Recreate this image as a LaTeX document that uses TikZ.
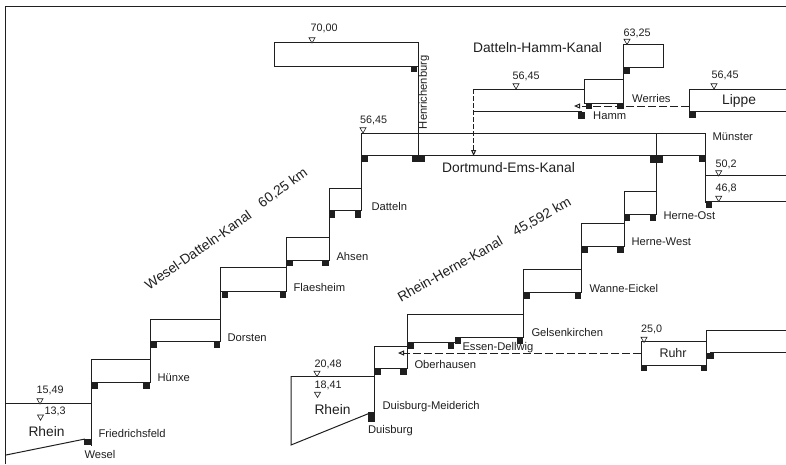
\documentclass[tikz,border=0pt]{standalone}
\usepackage{fontspec}
\setmainfont{Liberation Sans}
\usetikzlibrary{arrows.meta,shapes.geometric}

\begin{document}
\begin{tikzpicture}[
  x=1pt, y=-1pt,
  every path/.style={line width=1pt, color=black!88},
  gate/.style={draw=none, fill=black!88, minimum size=6.5pt, inner sep=0pt},
  widegate/.style={gate, minimum width=13pt},
  level/.style={draw, line width=0.6pt, fill=white, regular polygon, regular polygon sides=3, shape border rotate=180, minimum size=7pt, inner sep=0pt},
  stop/.style={anchor=west, inner sep=0pt, font=\fontsize{11.2}{13}\selectfont, text=black!88},
  height/.style={stop, font=\fontsize{10.8}{13}\selectfont},
  water/.style={anchor=west, inner sep=0pt, font=\fontsize{13.8}{15}\selectfont, text=black!88},
  kanal/.style={water, anchor=center},
  link/.style={dashed, dash pattern=on 8pt off 3pt, -{Triangle[open,length=6pt,width=5pt]}}
]

\useasboundingbox (0,0) rectangle (786,464);

\draw (5.5,464) -- (5.5,6.5) -- (786,6.5);

\draw (6,403) -- (91,403);
\draw (6,455) -- (85,439);
\draw (91,359) rectangle (150,382);
\draw (91,382) -- (91,446);
\draw (150,319) rectangle (220.5,341.7);
\draw (150,341.7) -- (150,382);
\draw (220.5,267.7) rectangle (286,291);
\draw (286,237) rectangle (329,260);
\draw (329,188) rectangle (361,210.7);
\draw (329,210.7) -- (329,237);
\draw (361,133) rectangle (705.5,155.7);
\draw (361,155.7) -- (361,210.7);
\draw (220.5,291) -- (220.5,319);
\draw (286,260) -- (286,291);

\draw (274,42) rectangle (418,66);
\draw (418,66) -- (418,156);

\draw (291,376) -- (374,376);
\draw (291,376) -- (291,445) -- (370,413);
\draw (374,346) rectangle (407,368.7);
\draw (374,368.7) -- (374,420);
\draw (407,314.7) -- (523.3,314.7) -- (523.3,337.3) -- (455,337.3) -- (455,342.7) -- (407,342.7) -- cycle;
\draw (407,342.7) -- (407,368.7);
\draw (523.3,269.7) rectangle (581.7,292);
\draw (523.3,292) -- (523.3,314.7);
\draw (581.7,223) rectangle (624,246);
\draw (581.7,246) -- (581.7,269.7);
\draw (624,191.7) rectangle (656.7,214);
\draw (624,214) -- (624,223);
\draw (656.7,133) -- (656.7,214);

\draw (705.5,155.7) -- (705.5,203);
\draw (706,175.7) -- (786,175.7);
\draw (706,201) -- (786,201);

\draw (641,341.7) rectangle (706,365);
\draw (706,365) -- (706,330) -- (786,330);
\draw (710,352.7) -- (786,352.7);

\draw (473.3,89) -- (584.3,89);
\draw (473.3,111.7) -- (582,111.7);
\draw (584.3,79.3) rectangle (623.7,103);
\draw (623.7,44.3) rectangle (663.3,67.3);
\draw (623.7,67.3) -- (623.7,79.3);
\draw (786,89) -- (689,89) -- (689,111.7) -- (786,111.7);

\node[gate] (wesel) at (87.7,442) {};
\node[gate] (huenxeA) at (95,385.7) {};
\node[gate] (huenxeB) at (146.7,385.7) {};
\node[gate] (dorstenA) at (153.3,345) {};
\node[gate] (dorstenB) at (217,345) {};
\node[gate] (flaesheimA) at (225,295) {};
\node[gate] (flaesheimB) at (283,295) {};
\node[gate] (ahsenA) at (290,263) {};
\node[gate] (ahsenB) at (325.7,263) {};
\node[gate] (dattelnA) at (332,214.5) {};
\node[gate] (dattelnB) at (358,214.5) {};
\node[gate] (dortmundA) at (365,159) {};
\node[widegate] (henrichenburgB) at (418.5,159) {};
\node[gate] (henrichenburgA) at (414,69) {};
\node[gate, minimum height=10pt] (duisburg) at (371.7,416.7) {};
\node[gate] (oberhausenA) at (377.7,372) {};
\node[gate] (oberhausenB) at (403.7,372) {};
\node[gate] (essenA) at (411,345.7) {};
\node[gate] (essenB) at (451,345.7) {};
\node[gate] (gelsenA) at (458,340.3) {};
\node[gate] (gelsenB) at (520,340.3) {};
\node[gate] (wanneA) at (527,296) {};
\node[gate] (wanneB) at (578,296) {};
\node[gate] (herneWestA) at (584.7,249.7) {};
\node[gate] (herneWestB) at (620.7,249.7) {};
\node[gate] (herneOstA) at (627,218) {};
\node[gate] (herneOstB) at (653,218) {};
\node[widegate] (herneOstC) at (656.7,159.3) {};
\node[gate] (muenster) at (702,159) {};
\node[gate] (muensterB) at (709,205) {};
\node[gate] (ruhrA) at (644,368) {};
\node[gate] (ruhrB) at (704,368) {};
\node[gate] (ruhrC) at (710.7,356) {};
\node[gate] (hammA) at (581.7,115.3) {};
\node[gate] (hammB) at (589,106) {};
\node[gate] (hammC) at (620.7,106) {};
\node[gate] (werries) at (627,71) {};
\node[gate] (lippe) at (692.3,115) {};

\node[level] (lvlA) at (40,400.5) {};
\node[level] (lvlB) at (40.5,416.7) {};
\node[level] (lvlC) at (317,373) {};
\node[level] (lvlD) at (317.5,394) {};
\node[level] (lvlE) at (644,339) {};
\node[level] (lvlF) at (312,39.5) {};
\node[level] (lvlG) at (363,129.5) {};
\node[level] (lvlH) at (516,85.5) {};
\node[level] (lvlI) at (627,41) {};
\node[level] (lvlJ) at (714,85.5) {};
\node[level] (lvlK) at (718.7,172.5) {};
\node[level] (lvlL) at (718.7,198) {};

\node[height] at (36,390) {15,49};
\node[height] at (44,411) {13,3};
\node[height] at (314,364) {20,48};
\node[height] at (314,385) {18,41};
\node[height] at (640.7,329) {25,0};
\node[height] at (310,28.5) {70,00};
\node[height] at (359.5,120) {56,45};
\node[height] at (512,76) {56,45};
\node[height] at (623,33) {63,25};
\node[height] at (711,75.7) {56,45};
\node[height] at (715,164) {50,2};
\node[height] at (715,188.7) {46,8};

\node[stop] at (98,433) {Friedrichsfeld};
\node[stop] at (84,454) {Wesel};
\node[stop] at (157,377.7) {Hünxe};
\node[stop] at (227,337.7) {Dorsten};
\node[stop] at (293,287) {Flaesheim};
\node[stop] at (336,256) {Ahsen};
\node[stop] at (371,206.7) {Datteln};
\node[stop, rotate=90] at (424,129.5) {Henrichenburg};
\node[stop] at (382,407) {Duisburg-Meiderich};
\node[stop] at (367.5,431) {Duisburg};
\node[stop] at (414,364) {Oberhausen};
\node[stop] at (462,348) {Essen-Dellwig};
\node[stop] at (531,332.7) {Gelsenkirchen};
\node[stop] at (589,288.7) {Wanne-Eickel};
\node[stop] at (631,241.7) {Herne-West};
\node[stop] at (663,216) {Herne-Ost};
\node[stop] at (712,136.7) {Münster};
\node[stop] at (631.7,98) {Werries};
\node[stop] at (592.7,116) {Hamm};

\node[water] at (28,432) {Rhein};
\node[water] at (314,410) {Rhein};
\node[stop, font=\fontsize{12.5}{15}\selectfont] at (659,352.7) {Ruhr};
\node[water] (lippeName) at (721.7,100.7) {Lippe};

\node[kanal] at (537.5,48) {Datteln-Hamm-Kanal};
\node[kanal] at (508.5,168) {Dortmund-Ems-Kanal};
\node[kanal, rotate=35] at (198,250) {Wesel-Datteln-Kanal};
\node[kanal, rotate=36] at (283,188) {60,25 km};
\node[kanal, rotate=29.5] at (450,269) {Rhein-Herne-Kanal};
\node[kanal, rotate=29.5] at (542,217) {45,592 km};

\coordinate (lippeEnd) at (689,106);
\coordinate (hammEnd) at (574,106);
\coordinate (ruhrEnd) at (641,353);
\coordinate (oberhausenEnd) at (398,353);
\coordinate (hammKanal) at (473.6,89);
\coordinate (dortmundEnd) at (473.6,156);

\draw[link] (lippeEnd) -- (hammEnd);
\draw[link] (ruhrEnd) -- (oberhausenEnd);
\draw[link, dash pattern=on 5pt off 2pt] (hammKanal) -- (dortmundEnd);

\end{tikzpicture}
\end{document}
